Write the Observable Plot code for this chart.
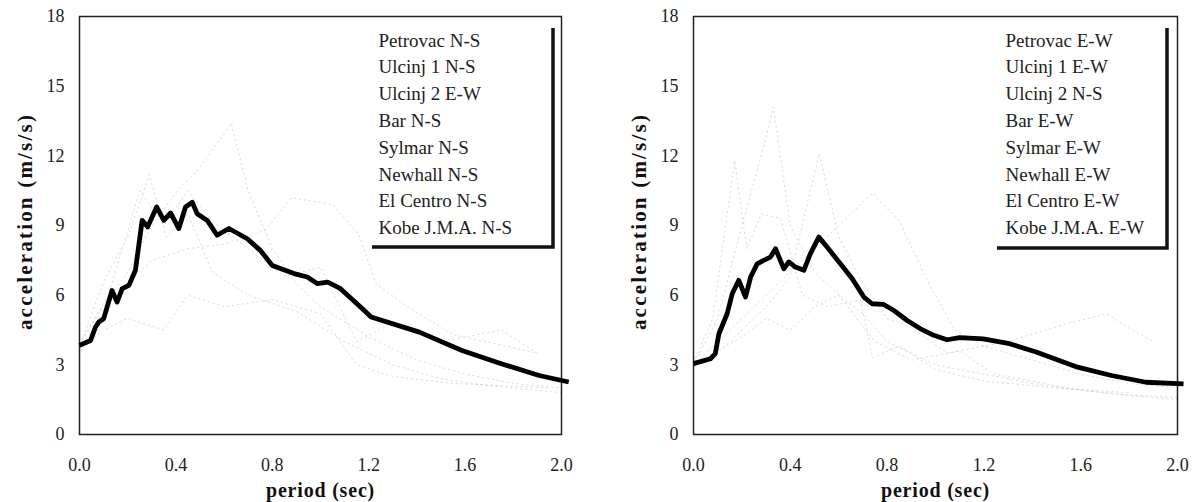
<!DOCTYPE html>
<html>
<head>
<meta charset="utf-8">
<script src="https://cdn.jsdelivr.net/npm/d3@7"></script>
<script src="https://cdn.jsdelivr.net/npm/@observablehq/plot@0.6"></script>
<style>
  html, body { margin: 0; padding: 0; background: #fff; overflow: hidden; }
  #wrap { display: flex; width: 1194px; height: 502px; }
</style>
</head>
<body>
<div id="wrap"></div>
<script>
// ---------- data ----------
const xTicks = [0, 0.4, 0.8, 1.2, 1.6, 2.0];
const yTicks = [0, 3, 6, 9, 12, 15, 18];
const xTitle = "period (sec)";
const yTitle = "acceleration (m/s/s)";

const legendNS = ["Petrovac N-S", "Ulcinj 1 N-S", "Ulcinj 2 E-W", "Bar N-S", "Sylmar N-S", "Newhall N-S", "El Centro N-S", "Kobe J.M.A. N-S"];
const legendEW = ["Petrovac E-W", "Ulcinj 1 E-W", "Ulcinj 2 N-S", "Bar E-W", "Sylmar E-W", "Newhall E-W", "El Centro E-W", "Kobe J.M.A. E-W"];

// mean spectrum (thick line), N-S panel
const periodNS = [0, 0.046, 0.066, 0.08, 0.10, 0.135, 0.156, 0.177, 0.205, 0.232, 0.26, 0.283, 0.32, 0.35, 0.378, 0.412, 0.44, 0.468, 0.488, 0.53, 0.571, 0.62, 0.696, 0.75, 0.80, 0.89, 0.945, 0.986, 1.03, 1.083, 1.166, 1.21, 1.41, 1.587, 1.747, 1.907, 2.03];
const meanNS   = [3.84, 4.05, 4.62, 4.84, 4.98, 6.2, 5.7, 6.28, 6.42, 7.07, 9.22, 8.94, 9.8, 9.22, 9.54, 8.87, 9.8, 10.0, 9.51, 9.22, 8.58, 8.87, 8.43, 7.93, 7.28, 6.93, 6.78, 6.5, 6.56, 6.28, 5.49, 5.06, 4.41, 3.62, 3.06, 2.54, 2.26];

// mean spectrum (thick line), E-W panel
const periodEW = [0, 0.07, 0.09, 0.105, 0.139, 0.16, 0.187, 0.215, 0.236, 0.263, 0.29, 0.318, 0.339, 0.373, 0.394, 0.421, 0.456, 0.483, 0.518, 0.552, 0.607, 0.656, 0.704, 0.738, 0.786, 0.828, 0.883, 0.938, 0.993, 1.048, 1.10, 1.197, 1.306, 1.416, 1.587, 1.727, 1.87, 2.025];
const meanEW   = [3.05, 3.26, 3.48, 4.34, 5.2, 6.06, 6.64, 5.92, 6.78, 7.35, 7.5, 7.64, 8.0, 7.14, 7.43, 7.21, 7.07, 7.79, 8.5, 8.07, 7.35, 6.71, 5.92, 5.63, 5.6, 5.34, 4.91, 4.55, 4.27, 4.08, 4.17, 4.12, 3.91, 3.55, 2.9, 2.54, 2.25, 2.18];

// faint individual-record traces (approximate, read from visible fragments)
const traceNS1 = [[0,3.8],[0.1,5],[0.2,6.5],[0.3,7.5],[0.45,8],[0.6,8.2],[0.77,8.8],[0.88,10.2],[1.05,9.9],[1.16,8.6],[1.23,6.5],[1.36,5.5],[1.55,4.3],[1.79,3.76],[1.9,3.5]];
const traceNS2 = [[0,3.9],[0.1,5.5],[0.2,7],[0.3,9],[0.4,10.4],[0.5,11.5],[0.63,13.4],[0.7,10.5],[0.8,8],[0.9,6.5],[1.0,5.5],[1.2,4.2],[1.4,3.2],[1.6,2.6],[1.8,2.2],[2.0,2.0]];
const traceNS3 = [[0,3.8],[0.1,6.6],[0.2,8.5],[0.29,11.2],[0.36,8.5],[0.45,9.5],[0.55,7],[0.7,6],[0.9,5.3],[1.1,4],[1.3,3],[1.5,2.4],[1.7,2.1],[2.0,1.8]];
const traceNS4 = [[0,3.6],[0.1,4.5],[0.2,5],[0.35,4.5],[0.45,6],[0.6,5.5],[0.8,5.8],[1.0,5.2],[1.15,3],[1.3,2.5],[1.55,2.2],[1.95,2.0]];
const traceNS5 = [[0,3.9],[0.12,6],[0.25,10.5],[0.35,9],[0.45,10.5],[0.55,9.2],[0.7,8],[0.85,6.8],[1.0,7.2],[1.15,4],[1.3,4.8],[1.5,4],[1.75,4.5],[1.9,3.5]];

const traceEW1 = [[0,3],[0.1,4],[0.2,5],[0.3,6],[0.45,7.5],[0.6,9],[0.74,10.4],[0.85,9.2],[0.98,6.35],[1.08,4.5],[1.2,3.8],[1.4,3.2],[1.6,2.6],[1.8,2.2],[2.0,2.0]];
const traceEW2 = [[0,3],[0.1,5],[0.2,9],[0.3,12.8],[0.33,14.1],[0.4,9],[0.5,7],[0.6,6],[0.7,5.2],[0.8,4],[1.0,3],[1.2,2.6],[1.4,2.2],[1.6,1.9],[1.8,1.7],[2.0,1.6]];
const traceEW3 = [[0,3.1],[0.08,5],[0.17,11.8],[0.22,8],[0.28,9.5],[0.36,9.3],[0.45,6],[0.55,5.5],[0.69,5.8],[0.74,3.3],[0.85,3.8],[1.0,2.8],[1.2,2.3],[1.5,2.0],[1.8,1.8]];
const traceEW4 = [[0,3],[0.1,3.5],[0.2,4.5],[0.3,5.5],[0.4,6.8],[0.46,9.5],[0.52,12.1],[0.6,8.5],[0.7,6.5],[0.8,5],[0.9,4.6],[1.05,3.5],[1.3,4],[1.55,4.8],[1.71,5.2],[1.78,4.7],[1.9,4]];
const traceEW5 = [[0,2.9],[0.1,3.6],[0.2,4.2],[0.3,5],[0.4,4.5],[0.5,5.5],[0.6,6],[0.75,4],[0.9,3.2],[1.1,3.6],[1.24,2.6],[1.4,2.3],[1.56,1.97],[1.77,1.7],[2.0,1.5]];

// ---------- drawing ----------
const FONT = "Liberation Serif";

function legendBox(leftOff, rightOff, bottomOff) {
  return (index, scales, values, dim) => {
    const fr = dim.width - dim.marginRight;
    const ft = dim.marginTop;
    const g = d3.create("svg:g");
    g.append("rect")
      .attr("x", fr - leftOff).attr("y", ft + 1)
      .attr("width", leftOff - rightOff).attr("height", bottomOff - 1)
      .attr("fill", "white");
    g.append("path")
      .attr("d", `M${fr - leftOff},${ft + bottomOff}H${fr - rightOff}V${ft + 12}`)
      .attr("fill", "none").attr("stroke", "#111").attr("stroke-width", 3.5);
    return g.node();
  };
}

function panel({periods, means, traces, legend, marginLeft, marginRight, boxLeft, boxRight, boxBottom, textLeft}) {
  const meanRows = periods.map((t, i) => ({t, a: means[i]}));
  const traceRows = traces.flatMap((tr, k) => tr.map(([t, a]) => ({t, a, k})));
  const svg = Plot.plot({
    width: 597,
    height: 502,
    marginLeft, marginRight,
    marginTop: 16,
    marginBottom: 68,
    style: {fontFamily: FONT, fontSize: "17px", color: "#222", background: "white"},
    x: {domain: [0, 2]},
    y: {domain: [0, 18]},
    marks: [
      Plot.line(traceRows, {x: "t", y: "a", z: "k", stroke: "#aaa", strokeWidth: 0.8, strokeOpacity: 0.5, strokeDasharray: "1.5,3.5"}),
      legendBox(boxLeft, boxRight, boxBottom),
      ...legend.map((name, i) => Plot.text([name], {
        frameAnchor: "top-right", dx: -textLeft, dy: 24 + i * 26.8,
        textAnchor: "start", lineAnchor: "middle", fontSize: 19, fontFamily: FONT, fill: "#222"
      })),
      Plot.frame({stroke: "#222", strokeWidth: 1.5}),
      Plot.axisX({ticks: xTicks, tickFormat: d => d.toFixed(1), tickSize: 0, tickPadding: 24, label: null, fontSize: 18, fontFamily: FONT, fill: "#222"}),
      Plot.axisY({ticks: yTicks, tickSize: 0, tickPadding: 15, label: null, fontSize: 18, fontFamily: FONT, fill: "#222"}),
      Plot.line(meanRows, {x: "t", y: "a", stroke: "#000", strokeWidth: 4.8, strokeLinejoin: "round", strokeLinecap: "butt"}),
      Plot.text([yTitle], {frameAnchor: "left", dx: -54, dy: -4, rotate: -90, textAnchor: "middle", lineAnchor: "middle", fontWeight: "bold", fontSize: 21, fontFamily: FONT, fill: "#111"}),
      Plot.text([xTitle], {frameAnchor: "bottom", dy: 56, textAnchor: "middle", lineAnchor: "middle", fontWeight: "bold", fontSize: 20, fontFamily: FONT, fill: "#111"})
    ]
  });
  d3.select(svg).selectAll("text")
    .filter(function() { return this.textContent === yTitle; })
    .attr("letter-spacing", 2.2);
  d3.select(svg).selectAll("text")
    .filter(function() { return this.textContent === xTitle; })
    .attr("letter-spacing", 0.8);
  return svg;
}

const wrap = document.getElementById("wrap");
wrap.append(panel({
  periods: periodNS, means: meanNS,
  traces: [traceNS1, traceNS2, traceNS3, traceNS4, traceNS5],
  legend: legendNS,
  marginLeft: 79, marginRight: 36,
  boxLeft: 189, boxRight: 8, boxBottom: 231, textLeft: 183
}));
wrap.append(panel({
  periods: periodEW, means: meanEW,
  traces: [traceEW1, traceEW2, traceEW3, traceEW4, traceEW5],
  legend: legendEW,
  marginLeft: 96, marginRight: 17,
  boxLeft: 180, boxRight: 10, boxBottom: 232, textLeft: 172
}));
</script>
</body>
</html>
